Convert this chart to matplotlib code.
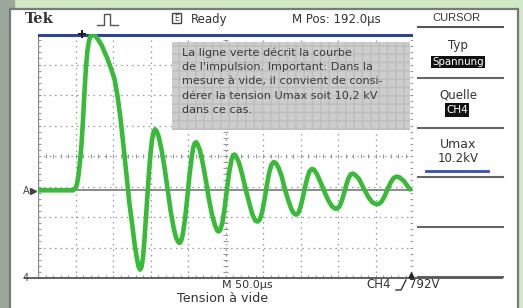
import matplotlib
matplotlib.use('Agg')
import matplotlib.pyplot as plt
from matplotlib.patches import Rectangle

plt.rcParams['font.family'] = ['DejaVu Sans']

# Kurve der Impulsspannung (Zeit in µs, Spannung in kV)
trace_t_us = [0, 47, 50, 52, 54, 56, 58, 60, 62, 64, 66, 68, 70, 73, 76, 80, 85,
              92, 98, 102, 106, 110, 114, 118, 122, 126, 129, 132, 134, 136, 138,
              140, 142, 144, 146, 148, 150, 152, 154, 156, 158, 161, 165, 169,
              173, 177, 181, 184, 187, 189, 191, 193, 196, 199, 202, 205, 207,
              209, 211, 213, 216, 220, 224, 228, 232, 236, 239, 241, 243, 246,
              249, 252, 255, 258, 260, 262, 264, 268, 272, 277, 282, 286, 290,
              293, 296, 299, 302, 305, 308, 311, 314, 317, 321, 325, 329, 334,
              338, 341, 344, 347, 350, 353, 356, 359, 362, 365, 368, 372, 377,
              382, 387, 392, 396, 399, 402, 405, 408, 411, 414, 417, 420, 423,
              428, 434, 440, 445, 450, 454, 458, 462, 466, 470, 474, 478, 482,
              488, 496]
trace_kv = [0, 0, 0.15, 0.4, 1.0, 1.9, 3.0, 4.6, 6.5, 8.1, 9.2, 9.8, 10.1, 10.2,
            10.15, 9.9, 9.5, 8.7, 7.9, 7.3, 6.2, 4.7, 2.9, 1.0, -0.9, -2.4,
            -3.6, -4.5, -5.0, -5.2, -5.05, -4.4, -3.2, -1.7, -0.2, 1.2, 2.4,
            3.3, 3.8, 4.0, 3.9, 3.5, 2.6, 1.4, 0.0, -1.4, -2.5, -3.1, -3.4,
            -3.45, -3.3, -2.9, -1.9, -0.5, 1.0, 2.2, 2.8, 3.1, 3.15, 3.0, 2.6,
            1.7, 0.6, -0.6, -1.6, -2.3, -2.65, -2.7, -2.6, -2.1, -1.1, 0.1, 1.2,
            2.0, 2.3, 2.35, 2.25, 1.8, 1.1, 0.05, -0.9, -1.6, -2.0, -2.05, -1.9,
            -1.4, -0.6, 0.3, 1.1, 1.65, 1.85, 1.8, 1.45, 0.9, 0.1, -0.7, -1.25,
            -1.5, -1.6, -1.5, -1.1, -0.5, 0.2, 0.8, 1.25, 1.4, 1.35, 1.05, 0.5,
            -0.1, -0.65, -1.05, -1.2, -1.2, -1.05, -0.7, -0.2, 0.35, 0.8, 1.05,
            1.1, 1.0, 0.75, 0.15, -0.4, -0.75, -0.9, -0.9, -0.75, -0.4, 0.05,
            0.5, 0.8, 0.9, 0.85, 0.6, 0.05]

u_max_kv = 10.2
info_lines = ["La ligne verte décrit la courbe",
              "de l'impulsion. Important: Dans la",
              "mesure à vide, il convient de consi-",
              "dérer la tension Umax soit 10,2 kV",
              "dans ce cas."]

# Bildschirm: 10 x 8 Teilungen, 50 µs/div, 2 kV/div
t_div = 50
kv_div = 2
y_low, y_high = -5.75, 10.25

fig = plt.figure(figsize=(5.23, 3.08), dpi=100)
fig.patch.set_facecolor('#cfe8c6')

# Hintergrund in Pixelkoordinaten
back = fig.add_axes([0, 0, 1, 1], zorder=0)
back.set_xlim(0, 523)
back.set_ylim(308, 0)
back.axis('off')
back.add_patch(Rectangle((0, 0), 14, 308, color='#9aa79a'))
back.add_patch(Rectangle((10, 9), 508, 305, facecolor='white', edgecolor='#7a7a7a', lw=1.6))

# Oszilloskop-Raster
ax = fig.add_axes([38 / 523, 30 / 308, 375 / 523, 244 / 308], zorder=1)
ax.set_xlim(0, 500)
ax.set_ylim(y_low, y_high)
ax.axis('off')
ax.patch.set_alpha(0)

dot = (0, (1.2, 3.2))
for k in range(11):
    ax.axvline(k * t_div, color='#9a9a9a', lw=0.9, ls=dot)
for k in range(9):
    ax.axhline(y_low + k * kv_div, color='#9a9a9a', lw=0.9, ls=dot)
ax.axvline(0, color='#888888', lw=0.9)

x_mid = 250
y_mid = y_low + 4 * kv_div
minor_t = [k * 10 for k in range(51)]
minor_v = [y_low + k * 0.4 for k in range(41)]
ax.vlines(minor_t, y_mid - 0.15, y_mid + 0.15, color='#999999', lw=0.8)
ax.hlines(minor_v, x_mid - 3, x_mid + 3, color='#999999', lw=0.8)
ax.hlines(minor_v, 0, 4, color='#999999', lw=0.8)
ax.hlines(minor_v, 496, 500, color='#999999', lw=0.8)
ax.vlines(minor_t, y_low, y_low + 0.2, color='#999999', lw=0.8)

# Nulllinie und Umax-Cursor
ax.axhline(0, color='#777777', lw=1.2)
ax.axhline(u_max_kv, color='#2a44a0', lw=2.2)
ax.plot(trace_t_us, trace_kv, color='#38bc38', lw=3.3, solid_capstyle='round',
        solid_joinstyle='round', zorder=5)

# Vordergrund: Texte, Menü, Infobox
front = fig.add_axes([0, 0, 1, 1], zorder=2)
front.set_xlim(0, 523)
front.set_ylim(308, 0)
front.axis('off')
front.patch.set_alpha(0)

front.add_patch(Rectangle((172, 42), 238, 88, facecolor='#cdcdcd', edgecolor='#bdbdbd',
                          hatch='++', lw=0))
for i, line in enumerate(info_lines):
    front.text(182, 53 + i * 14.2, line, fontsize=8.1, color='#3a3a3a', va='center')

# Kopfzeile
front.text(25, 19, 'Tek', fontsize=10.5, fontweight='bold', family='DejaVu Serif',
           color='#333333', va='center')
front.plot([97, 104, 104, 110, 110, 118], [25, 25, 14, 14, 25, 25], color='#555555', lw=1)
front.add_patch(Rectangle((172, 13), 9, 10, facecolor='white', edgecolor='#444444', lw=1))
front.text(176.5, 18.5, 'E', fontsize=5.5, ha='center', va='center', color='#444444')
front.text(191, 19, 'Ready', fontsize=8.5, color='#333333', va='center')
front.text(292, 19, 'M Pos: 192.0µs', fontsize=8.5, color='#333333', va='center')
front.text(432, 18, 'CURSOR', fontsize=8, color='#333333', va='center',
           family='Liberation Sans')
front.plot([418, 503], [27, 27], color='#555555', lw=1.5)

# Menüfelder rechts
for y in [78, 128, 177, 227, 277]:
    front.plot([418, 503], [y, y], color='#666666', lw=1.5)
front.text(458, 45, 'Typ', fontsize=8.5, ha='center', va='center', color='#333333')
front.text(458, 62, 'Spannung', fontsize=7.4, ha='center', va='center', color='white',
           bbox=dict(boxstyle='square,pad=0.12', fc='#111111', ec='none'))
front.text(458, 95, 'Quelle', fontsize=8.5, ha='center', va='center', color='#333333')
front.text(457, 110, 'CH4', fontsize=7.5, ha='center', va='center', color='white',
           bbox=dict(boxstyle='square,pad=0.15', fc='#111111', ec='none'))
front.text(458, 145, 'Umax', fontsize=9, ha='center', va='center', color='#333333')
front.text(458, 158, '10.2kV', fontsize=8.5, ha='center', va='center', color='#333333')
front.plot([426, 488], [171, 171], color='#3050c8', lw=2)

# Marker links
front.text(23, 191, 'A', fontsize=7, va='center', color='#444444')
front.plot([33], [191], marker='>', ms=4, color='#444444')
front.text(23, 278, '4', fontsize=7, va='center', color='#444444')
front.plot([25, 502], [278, 278], color='#555555', lw=1.3)
front.plot([82], [34], marker='+', ms=6, mew=1.5, color='#222222')
front.plot([411], [275], marker='^', ms=3.5, color='#222222')

# Fußzeile
front.text(222, 285, 'M 50.0µs', fontsize=8, color='#333333', va='center')
front.text(366, 285, 'CH4', fontsize=8.5, color='#333333', va='center')
front.plot([396, 401, 406], [290, 290, 280], color='#333333', lw=1)
front.text(409, 285, '792V', fontsize=8.5, color='#333333', va='center')
front.text(177, 299, 'Tension à vide', fontsize=9.2, color='#333333', va='center')

fig.savefig('out.png', dpi=100, facecolor=fig.get_facecolor())
